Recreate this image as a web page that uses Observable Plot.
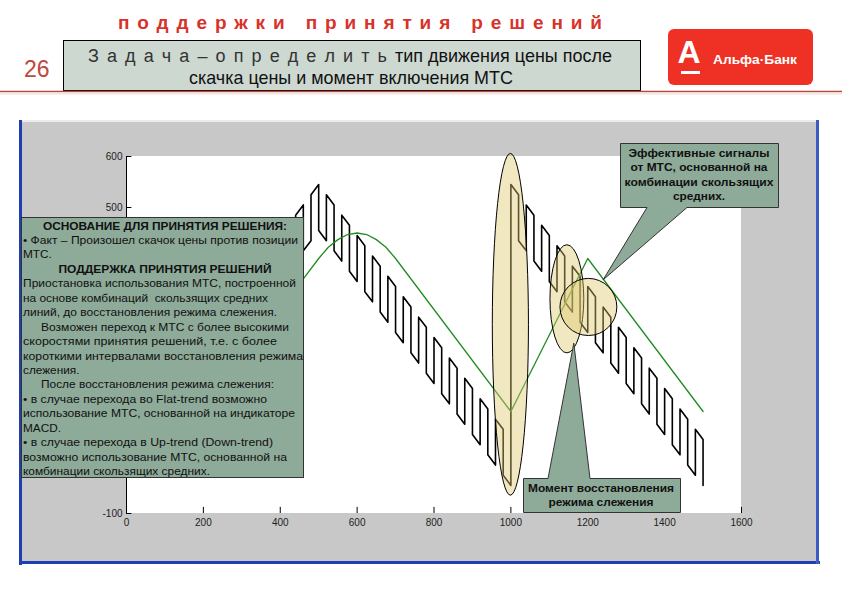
<!DOCTYPE html>
<html><head><meta charset="utf-8">
<script src="https://cdn.jsdelivr.net/npm/d3@7"></script>
<script src="https://cdn.jsdelivr.net/npm/@observablehq/plot@0.6"></script>
<style>html,body{margin:0;padding:0;background:#fff;overflow:hidden}</style>
</head><body><div id="chart"></div><script>
// ---- chart data ----
const xTicks = [0, 200, 400, 600, 800, 1000, 1200, 1400, 1600];
const yTicks = [-100, 0, 100, 200, 300, 400, 500, 600];
const yTickLabels = [-100, 500, 600]; // the others sit under the text box

// price path: at each switch position the value jumps from stepFrom to stepTo
const stepX = [320,340,360,380,400,420,440,460,480,500,520,540,560,580,600,620,640,660,680,700,
  720,740,760,780,800,820,840,860,880,900,920,940,960,980,1000,1020,1040,1060,1080,1100,1120,1140,
  1160,1180,1200,1220,1240,1260,1280,1300,1320,1340,1360,1380,1400,1420,1440,1460,1480,1500];
const stepFrom = [275,385,315,425,355,465,395,505,435,545,435,505,395,465,355,425,315,385,275,345,
  235,305,195,265,155,225,115,185,75,145,35,105,-5,65,-45,525,415,485,375,445,335,405,
  295,365,255,325,215,285,175,245,135,205,95,165,55,125,15,85,-25,45];
const stepTo = [365,295,405,335,445,375,485,415,525,455,525,415,485,375,445,335,405,295,365,255,
  325,215,285,175,245,135,205,95,165,55,125,15,85,-25,545,435,505,395,465,355,425,315,
  385,275,345,235,305,195,265,155,225,115,185,75,145,35,105,-5,65,-45];

// moving average (green)
const maX = [300, 460, 500, 525, 550, 575, 600, 625, 650, 675, 700, 1000, 1200, 1500];
const maY = [200, 360, 400, 422, 437, 447, 450, 447, 437, 422, 400, 100, 400, 100];

// highlighted zones (data units): centre and radii
const hlCX = [1000, 1147, 1203];
const hlCY = [270, 320, 304];
const hlRX = [47, 44, 74];
const hlRY = [335, 106, 56];

// callout pointer tips (data units)
const tipSignalX = 1241, tipSignalY = 357;
const tipMomentX = 1165, tipMomentY = 233;

const signalLines = ["Эффективные сигналы", "от МТС, основанной на", "комбинации скользящих", "средних."];
const momentLines = ["Момент восстановления", "режима слежения"];
const leftLines = [
  ["ОСНОВАНИЕ ДЛЯ ПРИНЯТИЯ РЕШЕНИЯ:", "h"],
  ["• Факт – Произошел скачок цены против позиции", "b"],
  ["МТС.", "b"],
  ["ПОДДЕРЖКА ПРИНЯТИЯ РЕШЕНИЙ", "h"],
  ["Приостановка использования МТС, построенной", "b"],
  ["на основе комбинаций  скользящих средних", "b"],
  ["линий, до восстановления режима слежения.", "b"],
  ["Возможен переход к МТС с более высокими", "i"],
  ["скоростями принятия решений, т.е. с более", "b"],
  ["короткими интервалами восстановления режима", "b"],
  ["слежения.", "b"],
  ["После восстановления режима слежения:", "i"],
  ["• в случае перехода во Flat-trend возможно", "b"],
  ["использование МТС, основанной на индикаторе", "b"],
  ["MACD.", "b"],
  ["• в случае перехода в Up-trend (Down-trend)", "b"],
  ["возможно использование МТС, основанной на", "b"],
  ["комбинации скользящих средних.", "b"]
];
// measured text widths (layout)
const leftWidths = [244, 275, 0, 213, 273, 245, 254, 248, 254, 280, 0, 233, 244, 272, 0, 250, 264, 187];
const signalWidths = [141, 137, 149, 52];
const momentWidths = [146, 105];

// tables for the library
const price = [];
stepX.forEach((x, i) => { price.push({x, y: stepFrom[i]}); price.push({x, y: stepTo[i]}); });
const ma = maX.map((x, i) => ({x, y: maY[i]}));

const FONT = "'Liberation Sans', Arial, sans-serif";

const chart = Plot.plot({
  width: 842, height: 596,
  marginLeft: 126, marginRight: 101, marginTop: 156, marginBottom: 83,
  x: {domain: [0, 1600], axis: null},
  y: {domain: [-100, 600], axis: null},
  style: {background: "transparent", fontFamily: FONT, fontSize: "10px", overflow: "visible"},
  marks: [
    Plot.ruleX([0], {y1: -100, y2: 600, stroke: "#000"}),
    Plot.ruleX(xTicks, {x: d => d, y1: -100, y2: -88, stroke: "#000"}),
    Plot.ruleY(yTicks, {y: d => d, x1: 0, x2: 14, stroke: "#000"}),
    Plot.text(xTicks, {x: d => d, y: -100, dy: 9, text: d => String(d), fill: "#222", fontSize: 10}),
    Plot.text(yTickLabels, {x: 0, y: d => d, dx: -4, textAnchor: "end", text: d => String(d), fill: "#222", fontSize: 10}),
    Plot.line(price, {x: "x", y: "y", stroke: "#000", strokeWidth: 1.6}),
    Plot.line(ma, {x: "x", y: "y", stroke: "#1f8c1f", strokeWidth: 1.3})
  ]
});
document.getElementById("chart").appendChild(chart);

const sx = chart.scale("x"), sy = chart.scale("y");
const svg = d3.select(chart);

function txt(g, x, y, s, o = {}) {
  return g.append("text").attr("x", x).attr("y", y)
    .attr("text-anchor", o.anchor || "start")
    .attr("font-family", FONT).attr("font-size", o.size || 11)
    .attr("font-weight", o.weight || "normal").attr("fill", o.fill || "#111")
    .call(e => { if (o.len) e.attr("textLength", o.len).attr("lengthAdjust", o.adj || "spacing"); })
    .text(s);
}

// ---- background layer ----
const bg = svg.insert("g", ":first-child");
bg.append("rect").attr("x", 0).attr("y", 0).attr("width", 842).attr("height", 596).attr("fill", "#fff");
// header
txt(bg, 118, 29, "поддержки принятия решений", {size: 19, weight: "bold", fill: "#d8322a", len: 484});
txt(bg, 24, 77, "26", {size: 23, fill: "#c0473c"});
bg.append("rect").attr("x", 63.5).attr("y", 40.5).attr("width", 577).attr("height", 50)
  .attr("fill", "#cdd8d1").attr("stroke", "#000").attr("stroke-width", 1);
txt(bg, 88, 62, "З а д а ч а – о п р е д е л и т ь", {size: 18, fill: "#333", len: 299});
txt(bg, 395, 62, "тип движения цены после", {size: 19, len: 217, adj: "spacingAndGlyphs"});
txt(bg, 189, 84, "скачка цены и момент включения МТС", {size: 19, len: 324, adj: "spacingAndGlyphs"});
bg.append("line").attr("x1", 0).attr("x2", 842).attr("y1", 91.5).attr("y2", 91.5)
  .attr("stroke", "#b4483c").attr("stroke-width", 1.5);
bg.append("line").attr("x1", 0).attr("x2", 842).attr("y1", 93.5).attr("y2", 93.5)
  .attr("stroke", "#f6e4e0").attr("stroke-width", 2);
// logo
bg.append("rect").attr("x", 668).attr("y", 29).attr("width", 145).attr("height", 56).attr("rx", 6)
  .attr("fill", "#ee3124");
txt(bg, 689, 63, "А", {anchor: "middle", size: 32, weight: "bold", fill: "#fff"});
bg.append("rect").attr("x", 681).attr("y", 71).attr("width", 19).attr("height", 3).attr("fill", "#fff");
txt(bg, 713, 64, "Альфа·Банк", {size: 13, weight: "bold", fill: "#fff", len: 84, adj: "spacingAndGlyphs"});
// figure window
bg.append("rect").attr("x", 20).attr("y", 120).attr("width", 799).attr("height", 444).attr("fill", "#c8c8c8");
bg.append("rect").attr("x", 20).attr("y", 120).attr("width", 799).attr("height", 2).attr("fill", "#ececec");
bg.append("rect").attr("x", 19).attr("y", 120).attr("width", 3).attr("height", 445).attr("fill", "#1e3fb4");
bg.append("rect").attr("x", 19).attr("y", 561).attr("width", 801).attr("height", 3).attr("fill", "#1e3fb4");
bg.append("rect").attr("x", 816).attr("y", 120).attr("width", 3).attr("height", 444).attr("fill", "#3a5cc4");
// axes area
const [x0, x1] = sx.range, [y0, y1] = sy.range;
bg.append("rect").attr("x", x0).attr("y", y1).attr("width", x1 - x0).attr("height", y0 - y1).attr("fill", "#fff");

// ---- overlay layer ----
const fg = svg.append("g");
hlCX.forEach((cx, i) => {
  const px = sx.apply(cx), py = sy.apply(hlCY[i]);
  const rx = sx.apply(cx + hlRX[i]) - px, ry = sy.apply(hlCY[i] - hlRY[i]) - py;
  fg.append("ellipse").attr("cx", px).attr("cy", py).attr("rx", rx).attr("ry", ry)
    .attr("fill", "rgb(222,200,110)").attr("fill-opacity", 0.42).attr("stroke", "#000").attr("stroke-width", 1);
});

const CALL = "#8eaa99";
// signal callout
{
  const tx = sx.apply(tipSignalX), ty = sy.apply(tipSignalY);
  const L = 620.5, R = 778.5, T = 143.5, B = 207.5;
  fg.append("path").attr("d", `M${L},${T}H${R}V${B}H687L${tx},${ty}L647,${B}H${L}Z`)
    .attr("fill", CALL).attr("stroke", "#333").attr("stroke-width", 1);
  signalLines.forEach((t, i) => txt(fg, 699, 156.5 + i * 14.6, t,
    {anchor: "middle", size: 11, weight: "bold", len: signalWidths[i], adj: "spacingAndGlyphs"}));
}
// moment callout
{
  const tx = sx.apply(tipMomentX), ty = sy.apply(tipMomentY);
  const L = 523.5, R = 680.5, T = 478.5, B = 512.5;
  fg.append("path").attr("d", `M${L},${T}H548L${tx},${ty}L590,${T}H${R}V${B}H${L}Z`)
    .attr("fill", CALL).attr("stroke", "#333").attr("stroke-width", 1);
  momentLines.forEach((t, i) => txt(fg, 601, 492 + i * 14, t,
    {anchor: "middle", size: 11, weight: "bold", len: momentWidths[i], adj: "spacingAndGlyphs"}));
}
// left text box
fg.append("rect").attr("x", 21.5).attr("y", 217.5).attr("width", 282).attr("height", 260)
  .attr("fill", CALL).attr("stroke", "#333").attr("stroke-width", 1);
const lineY0 = 229.5, lineStep = 14.45;
leftLines.forEach(([t, kind], i) => {
  const y = lineY0 + i * lineStep;
  const o = {size: 11.8};
  if (leftWidths[i]) { o.len = leftWidths[i]; o.adj = "spacingAndGlyphs"; }
  if (kind === "h") txt(fg, 165, y, t, {...o, anchor: "middle", weight: "bold"});
  else if (kind === "i") txt(fg, 41, y, t, o);
  else txt(fg, 23, y, t, o);
});
</script></body></html>
